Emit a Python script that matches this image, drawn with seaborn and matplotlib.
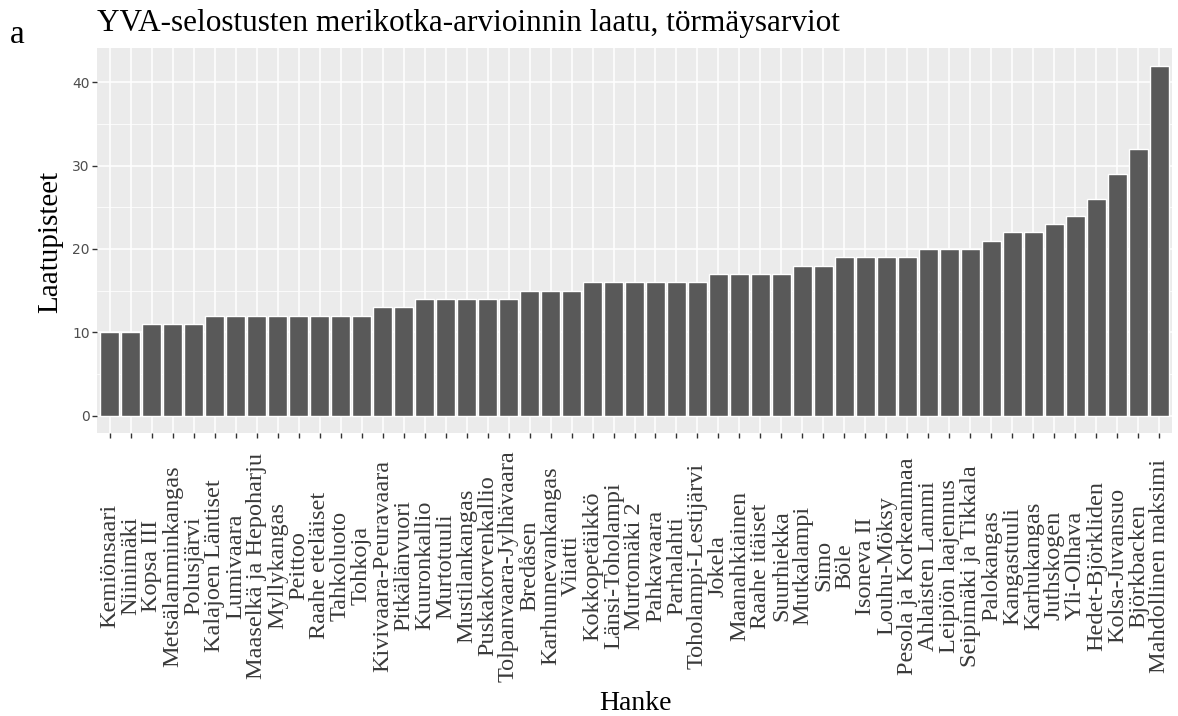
import matplotlib
matplotlib.use("Agg")
import matplotlib.pyplot as plt
import seaborn as sns
import pandas as pd
import numpy as np

# Projects (sorted by score) and their quality points
hankkeet = [
    "Kemiönsaari", "Niinimäki", "Kopsa III", "Metsälamminkangas", "Polusjärvi",
    "Kalajoen Läntiset", "Lumivaara", "Maaselkä ja Hepoharju", "Myllykangas", "Peittoo",
    "Raahe eteläiset", "Tahkoluoto", "Tohkoja", "Kivivaara-Peuravaara", "Pitkälänvuori",
    "Kuuronkallio", "Murtotuuli", "Mustilankangas", "Puskakorvenkallio", "Tolpanvaara-Jylhävaara",
    "Bredåsen", "Karhunnevankangas", "Viiatti", "Kokkopetäikkö", "Länsi-Toholampi",
    "Murtomäki 2", "Pahkavaara", "Parhalahti", "Toholampi-Lestijärvi", "Jokela",
    "Maanahkiainen", "Raahe itäiset", "Suurhiekka", "Mutkalampi", "Simo",
    "Böle", "Isoneva II", "Louhu-Möksy", "Pesola ja Korkeanmaa", "Ahlaisten Lammi",
    "Leipiön laajennus", "Seipimäki ja Tikkala", "Palokangas", "Kangastuuli", "Karhukangas",
    "Juthskogen", "Yli-Olhava", "Hedet-Björkliden", "Kolsa-Juvansuo", "Björkbacken",
    "Mahdollinen maksimi",
]
pisteet = [
    10, 10, 11, 11, 11,
    12, 12, 12, 12, 12,
    12, 12, 12, 13, 13,
    14, 14, 14, 14, 14,
    15, 15, 15, 16, 16,
    16, 16, 16, 16, 17,
    17, 17, 17, 18, 18,
    19, 19, 19, 19, 20,
    20, 20, 21, 22, 22,
    23, 24, 26, 29, 32,
    42,
]
y_ticks = [0, 10, 20, 30, 40]

df = pd.DataFrame({"Hanke": hankkeet, "Laatupisteet": pisteet})

sns.set_theme(style="darkgrid", rc={
    "axes.facecolor": "#EBEBEB",
    "grid.color": "white",
    "axes.edgecolor": "none",
})
serif = ["Liberation Serif", "DejaVu Serif"]

W, H = 1178, 716
fig = plt.figure(figsize=(W / 100, H / 100), dpi=100)
ax = fig.add_axes([97 / W, 1 - 433 / H, (1172 - 97) / W, (433 - 48) / H])

sns.barplot(data=df, x="Hanke", y="Laatupisteet", order=hankkeet,
            color="#595959", saturation=1, width=0.9, errorbar=None, ax=ax,
            zorder=3)

n = len(hankkeet)
ax.set_xlim(-0.6, n - 0.4)
ymax = max(pisteet)
ax.set_ylim(-0.05 * ymax, ymax * 1.05)
ax.set_yticks(y_ticks)
ax.set_yticks([5, 15, 25, 35], minor=True)
ax.grid(True, which="major", color="white", linewidth=1.1, zorder=0)
ax.grid(True, which="minor", axis="y", color="white", linewidth=0.55, zorder=0)
ax.set_axisbelow(True)

ax.set_xlabel("")
ax.set_ylabel("")

ax.tick_params(axis="y", which="major", length=3.6, width=1.0, color="#333333",
               labelsize=10, labelcolor="#4D4D4D", pad=1.5, left=True)
ax.tick_params(axis="y", which="minor", length=0)
for lab in ax.get_yticklabels():
    lab.set_family(["DejaVu Sans"])

ax.tick_params(axis="x", length=3.6, width=1.0, color="#333333", bottom=True,
               labelsize=17.5, labelcolor="#3A3A3A", pad=92)
ax.set_xticks(range(n))
ax.set_xticklabels(hankkeet, rotation=90, ha="center", va="center", family=serif)

fig.text(97 / W, 1 - 31 / H, "YVA-selostusten merikotka-arvioinnin laatu, törmäysarviot",
         family=serif, fontsize=22.5, color="black", ha="left", va="baseline")
fig.text(10 / W, 1 - 43 / H, "a", family=serif, fontsize=24, color="black",
         ha="left", va="baseline")
fig.text(50 / W, 1 - 242 / H, "Laatupisteet", family=serif, fontsize=21,
         rotation=90, ha="center", va="center", color="black")
fig.text(635 / W, 1 - 703 / H, "Hanke", family=serif, fontsize=20,
         ha="center", va="center", color="black")

fig.savefig("out.png", dpi=100)
